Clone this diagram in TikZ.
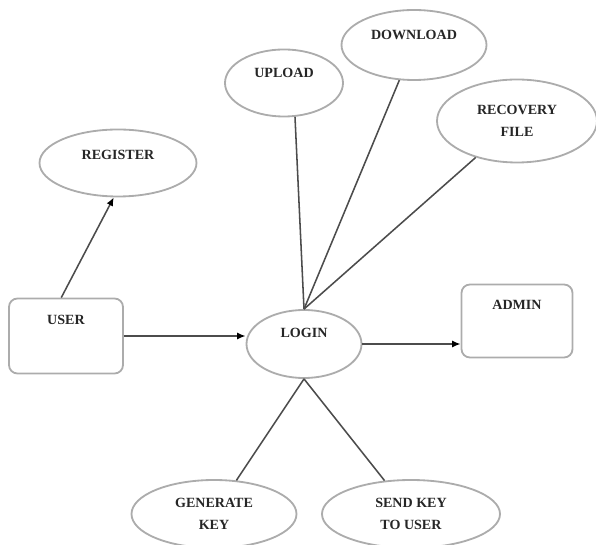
\documentclass[tikz,border=0pt]{standalone}
\usepackage{fontspec}
\setmainfont{Liberation Serif}
\usetikzlibrary{shapes.geometric,arrows.meta}

\begin{document}
\begin{tikzpicture}[
  ellip/.style={draw=gray!65, line width=1.3pt, ellipse, inner sep=0pt, align=center,
    font=\bfseries\fontsize{10}{15.5}\selectfont, text=black!85},
  box/.style={draw=gray!65, line width=1.3pt, rectangle, rounded corners=6pt, inner sep=0pt,
    font=\bfseries\fontsize{10}{15.5}\selectfont, text=black!85},
  raised/.style={text height=0.3cm, text depth=#1},
  link/.style={draw=gray!60!black, line width=1.1pt},
  tip/.style={-{Latex[length=6pt,width=5pt,black]}}
]
\useasboundingbox (0,0) rectangle (14.9,13.6);

\node[ellip, raised=0.45cm, minimum width=3.925cm, minimum height=1.675cm] (register) at (2.95,9.525) {REGISTER};
\node[ellip, raised=0.55cm, minimum width=2.95cm, minimum height=1.675cm] (upload) at (7.1,11.525) {UPLOAD};
\node[ellip, raised=0.55cm, minimum width=3.625cm, minimum height=1.75cm] (download) at (10.35,12.475) {DOWNLOAD};
\node[ellip, minimum width=4cm, minimum height=2.075cm] (recovery) at (12.925,10.575) {RECOVERY\\FILE};

\node[box, raised=0.85cm, minimum width=2.85cm, minimum height=1.875cm] (user) at (1.65,5.2) {USER};
\node[ellip, raised=0.6cm, minimum width=2.875cm, minimum height=1.7cm] (login) at (7.6,5.0) {LOGIN};
\node[box, raised=0.85cm, minimum width=2.775cm, minimum height=1.825cm] (admin) at (12.925,5.575) {ADMIN};

\node[ellip, minimum width=4.125cm, minimum height=1.7cm] (generate) at (5.35,0.75) {GENERATE\\KEY};
\node[ellip, minimum width=4.45cm, minimum height=1.7cm] (send) at (10.275,0.75) {SEND KEY\\TO USER};

\draw[link,tip] (user.97) -- (register.-97);
\draw[link,tip] (user.east) -- (user.east -| login.west);
\draw[link,tip] (login.east) -- (login.east -| admin.west);

\draw[link] (upload.-72) -- (login.north);
\draw[link] (download) -- (login.north);
\draw[link] (recovery) -- (login.north);

\draw[link] (login.south) -- (generate);
\draw[link] (login.south) -- (send);
\end{tikzpicture}
\end{document}
